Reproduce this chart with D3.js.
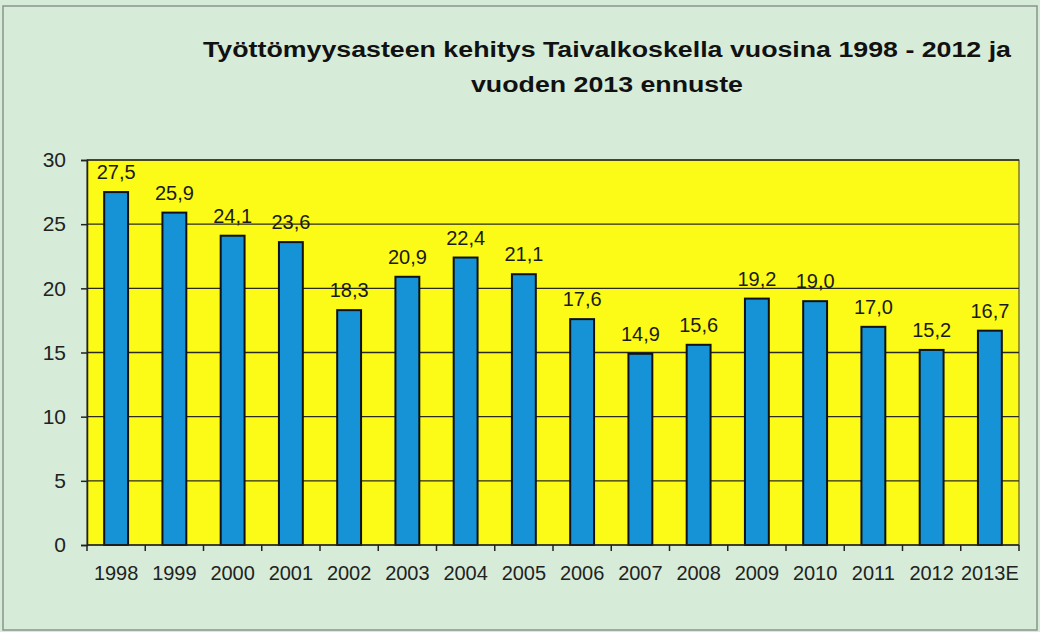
<!DOCTYPE html>
<html>
<head>
<meta charset="utf-8">
<title>Työttömyysaste</title>
<script src="https://cdnjs.cloudflare.com/ajax/libs/d3/7.8.5/d3.min.js"></script>
<style>
  html, body { margin: 0; padding: 0; background: #d6ecd8; }
  svg { display: block; font-family: "Liberation Sans", Arial, sans-serif; }
</style>
</head>
<body>
<svg id="chart" width="1040" height="632"></svg>
<script>
  const years = ['1998', '1999', '2000', '2001', '2002', '2003', '2004', '2005',
    '2006', '2007', '2008', '2009', '2010', '2011', '2012', '2013E']
  const rates = [27.5, 25.9, 24.1, 23.6, 18.3, 20.9, 22.4, 21.1,
    17.6, 14.9, 15.6, 19.2, 19.0, 17.0, 15.2, 16.7]
  const yTicks = [0, 5, 10, 15, 20, 25, 30]
  const titleLines = ['Työttömyysasteen kehitys Taivalkoskella vuosina 1998 - 2012 ja',
    'vuoden 2013 ennuste']

  const width = 1040, height = 632
  const margin = { top: 160, right: 21, bottom: 87, left: 87 }
  const svg = d3.select('#chart')

  // outer frame
  svg.append('rect')
    .attr('x', 3).attr('y', 6).attr('width', width - 6).attr('height', height - 8)
    .attr('fill', '#d6ecd8').attr('stroke', '#8a948c').attr('stroke-width', 1.5)

  const x = d3.scaleBand()
    .domain(years)
    .range([margin.left, width - margin.right])
    .paddingInner(0.59).paddingOuter(0.295)

  const y = d3.scaleLinear()
    .domain([0, 30])
    .range([height - margin.bottom, margin.top])

  const fmt = v => d3.format('.1f')(v).replace('.', ',')

  // plot area
  svg.append('rect')
    .attr('x', margin.left).attr('y', y(30))
    .attr('width', width - margin.left - margin.right)
    .attr('height', y(0) - y(30))
    .attr('fill', '#fcfa17').attr('stroke', '#3a3a2a').attr('stroke-width', 1)

  // gridlines
  svg.append('g')
    .selectAll('line')
    .data(yTicks.filter(d => d > 0))
    .join('line')
    .attr('x1', margin.left).attr('x2', width - margin.right)
    .attr('y1', d => y(d)).attr('y2', d => y(d))
    .attr('stroke', '#2a2a22').attr('stroke-width', 1.3)

  // bars
  svg.append('g')
    .selectAll('rect')
    .data(rates)
    .join('rect')
    .attr('x', (d, i) => x(years[i]))
    .attr('y', d => y(d))
    .attr('width', x.bandwidth())
    .attr('height', d => y(0) - y(d))
    .attr('fill', '#1692d6').attr('stroke', '#111').attr('stroke-width', 2)

  // value labels
  svg.append('g')
    .selectAll('text')
    .data(rates)
    .join('text')
    .attr('x', (d, i) => x(years[i]) + x.bandwidth() / 2)
    .attr('y', d => y(d) - 13)
    .attr('text-anchor', 'middle')
    .attr('font-size', 20)
    .attr('fill', '#1a1a1a')
    .text(fmt)

  // y axis
  const yAxis = svg.append('g')
    .attr('transform', `translate(${margin.left},0)`)
    .call(d3.axisLeft(y).tickValues(yTicks).tickSize(6).tickPadding(15))
  yAxis.select('.domain').attr('stroke', '#222').attr('stroke-width', 1.5)
  yAxis.selectAll('.tick line').attr('stroke', '#222').attr('stroke-width', 1.5)
  yAxis.selectAll('text').attr('font-size', 21).attr('fill', '#222')

  // x axis: ticks on category boundaries
  const step = x.step()
  const boundaries = d3.range(years.length + 1).map(i => margin.left + i * step)
  const xAxis = svg.append('g')
  xAxis.append('line')
    .attr('x1', margin.left).attr('x2', width - margin.right)
    .attr('y1', y(0)).attr('y2', y(0))
    .attr('stroke', '#222').attr('stroke-width', 1.5)
  xAxis.selectAll('line.tk')
    .data(boundaries)
    .join('line').attr('class', 'tk')
    .attr('x1', d => d).attr('x2', d => d)
    .attr('y1', y(0)).attr('y2', y(0) + 6)
    .attr('stroke', '#222').attr('stroke-width', 1.5)
  xAxis.selectAll('text')
    .data(years)
    .join('text')
    .attr('x', d => x(d) + x.bandwidth() / 2)
    .attr('y', y(0) + 35)
    .attr('text-anchor', 'middle')
    .attr('font-size', 20)
    .attr('fill', '#222')
    .text(d => d)

  // title
  svg.append('g')
    .selectAll('text')
    .data(titleLines)
    .join('text')
    .attr('x', 607)
    .attr('y', (d, i) => 57 + i * 35)
    .attr('text-anchor', 'middle')
    .attr('font-size', 22)
    .attr('font-weight', 'bold')
    .attr('fill', '#111')
    .attr('textLength', (d, i) => i === 0 ? 808 : 272)
    .attr('lengthAdjust', 'spacingAndGlyphs')
    .text(d => d)
</script>
</body>
</html>
